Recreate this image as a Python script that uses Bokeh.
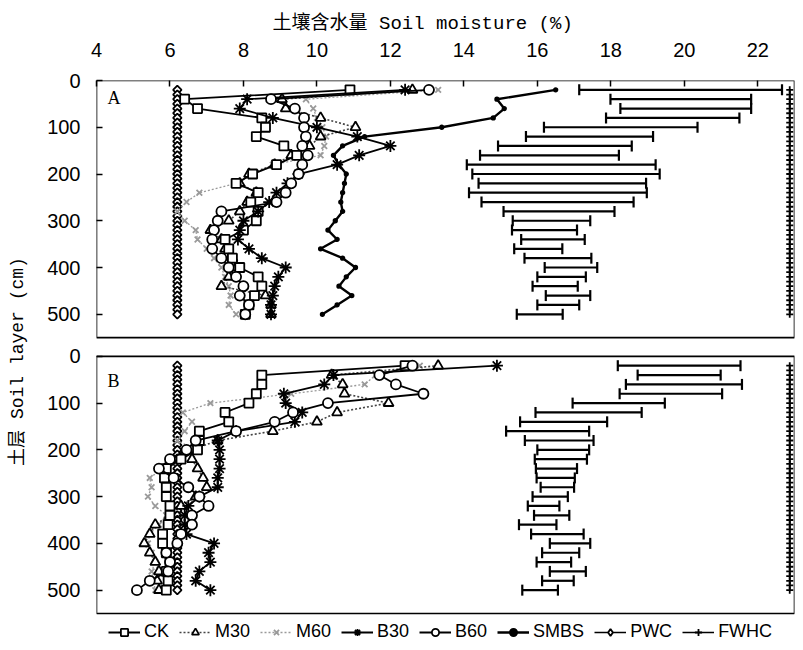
import math
from bokeh.plotting import figure
from bokeh.models import (Range1d, FixedTicker, Whisker, TeeHead, Legend,
                          LegendItem, Label, ColumnDataSource)
from bokeh.embed import file_html
from bokeh.resources import INLINE

# ---------------- data ----------------
depths = [20, 40, 60, 80, 100, 120, 140, 160, 180, 200, 220, 240, 260,
          280, 300, 320, 340, 360, 380, 400, 420, 440, 460, 480, 500]
layer_depths = [20, 30, 40, 50, 60, 70, 80, 90, 100, 110, 120, 130, 140,
                150, 160, 170, 180, 190, 200, 210, 220, 230, 240, 250, 260,
                270, 280, 290, 300, 310, 320, 330, 340, 350, 360, 370, 380,
                390, 400, 410, 420, 430, 440, 450, 460, 470, 480, 490, 500]
x_ticks = [4, 6, 8, 10, 12, 14, 16, 18, 20, 22]
y_ticks = [0, 100, 200, 300, 400, 500]
y_tick_labels = ["0", "100", "200", "300", "400", "500"]
series_names = ["CK", "M30", "M60", "B30", "B60", "SMBS", "PWC", "FWHC"]

# Panel A
ck_a = [10.9, 6.4, 6.75, 8.5, 8.6, 8.35, 9.1, 9.45, 8.9, 8.25, 7.8, 8.4, 8.2,
        8.4, 8.35, 8.0, 7.5, 7.6, 7.7, 7.9, 8.4, 8.5, 8.3, 8.15, 8.05]
m30_a = [12.6, 9.05, 9.15, 10.1, 11.05, 10.1, 9.8, 9.3, 8.85, 8.15, 7.9, 8.35,
         8.1, 7.9, 7.6, 7.1, 7.4, 7.5, 7.7, 7.8, 7.6, 7.4, 8.6, 8.75, 8.75]
m60_a = [13.3, 9.7, 9.9, 10.0, 10.15, 10.25, 10.2, 10.1, 8.8, 8.3, 7.8, 6.8,
         6.45, 6.2, 6.4, 6.7, 6.75, 7.0, 7.2, 7.4, 7.5, 7.6, 7.65, 7.6, 7.8]
b30_a = [12.4, 8.1, 7.9, 8.8, 10.0, 11.1, 12.0, 11.15, 10.55, 9.5, 9.2, 8.9,
         8.7, 8.4, 8.0, 7.9, 7.85, 8.15, 8.5, 9.15, 8.95, 8.85, 8.8, 8.75, 8.75]
b60_a = [13.05, 8.75, 9.4, 9.65, 9.65, 9.7, 9.6, 9.75, 9.6, 9.5, 9.3, 9.15,
         8.9, 7.4, 7.3, 7.2, 7.15, 7.15, 7.4, 7.6, 7.8, 8.0, 7.9, 8.15, 8.05]
smbs_a = [16.5, 14.9, 15.1, 14.8, 13.4, 11.3, 10.7, 10.45, 10.6, 10.8, 10.75,
          10.7, 10.65, 10.7, 10.5, 10.3, 10.55, 10.1, 10.7, 11.05, 10.8, 10.6,
          10.95, 10.55, 10.15]
range_lo_a = [17.14, 17.99, 18.26, 17.87, 16.18, 15.69, 14.93, 14.44, 14.08,
              14.23, 14.4, 14.14, 14.48, 15.08, 15.33, 15.31, 15.56, 15.37,
              15.65, 16.2, 16.0, 15.87, 16.23, 16.0, 15.44]
range_hi_a = [22.66, 21.82, 21.82, 21.5, 20.36, 19.15, 18.57, 18.22, 19.22,
              19.33, 18.96, 18.98, 18.62, 18.1, 17.44, 17.08, 17.29, 16.68,
              17.47, 17.63, 17.32, 17.1, 17.44, 17.14, 16.69]
pwc_a = [6.2, 6.2, 6.2, 6.2, 6.2, 6.2, 6.2, 6.2, 6.2, 6.2,
         6.2, 6.2, 6.2, 6.2, 6.2, 6.2, 6.2, 6.2, 6.2, 6.2,
         6.2, 6.2, 6.2, 6.2, 6.2, 6.2, 6.2, 6.2, 6.2, 6.2,
         6.2, 6.2, 6.2, 6.2, 6.2, 6.2, 6.2, 6.2, 6.2, 6.2,
         6.2, 6.2, 6.2, 6.2, 6.2, 6.2, 6.2, 6.2, 6.2]
fwhc_a = [22.87, 22.87, 22.87, 22.87, 22.87, 22.87, 22.87, 22.87, 22.87, 22.87,
          22.87, 22.87, 22.87, 22.87, 22.87, 22.87, 22.87, 22.87, 22.87, 22.87,
          22.87, 22.87, 22.87, 22.87, 22.87, 22.87, 22.87, 22.87, 22.87, 22.87,
          22.87, 22.87, 22.87, 22.87, 22.87, 22.87, 22.87, 22.87, 22.87, 22.87,
          22.87, 22.87, 22.87, 22.87, 22.87, 22.87, 22.87, 22.87, 22.87]

# Panel B
ck_b = [12.4, 8.5, 8.5, 8.35, 8.15, 7.5, 7.6, 6.8, 6.8, 6.75, 6.3, 5.9, 5.85,
        5.9, 5.9, 6.0, 6.0, 5.95, 5.8, 5.8, 5.9, 6.0, 5.9, 5.95, 5.9]
m30_b = [13.3, 10.4, 10.7, 10.75, 11.95, 10.55, 10.0, 8.8, 7.3, 6.6, 6.6, 6.75,
         6.9, 7.0, 6.7, 6.3, 6.0, 5.6, 5.45, 5.3, 5.45, 5.6, 5.7, 5.65, 5.7]
m60_b = [12.8, 11.6, 11.3, 9.3, 7.1, 6.35, 6.6, 6.4, 6.2, 6.7, 6.6, 5.8, 5.45,
         5.5, 5.4, 5.6, 5.9, 5.7, 5.45, 5.4, 5.5, 5.6, 5.5, 5.55, 5.6]
b30_b = [14.9, 10.45, 10.2, 9.1, 9.15, 9.6, 9.4, 7.8, 7.3, 7.35, 7.35, 7.35,
         7.3, 7.3, 6.8, 6.5, 6.4, 6.4, 6.45, 7.2, 7.05, 7.1, 6.8, 6.7, 7.1]
b60_b = [12.6, 11.7, 12.15, 12.9, 10.3, 9.35, 8.85, 7.8, 6.7, 6.45, 6.0, 5.7,
         6.1, 6.5, 6.8, 7.05, 6.6, 6.6, 6.3, 6.2, 5.9, 6.0, 5.95, 5.45, 5.1]
range_lo_b = [18.19, 18.73, 18.41, 18.24, 16.96, 15.95, 15.53, 15.15, 15.66,
              16.0, 15.93, 15.96, 15.98, 16.09, 15.87, 15.74, 15.91, 15.5,
              15.83, 16.34, 16.13, 15.98, 16.34, 16.13, 15.59]
range_hi_b = [21.53, 20.99, 21.57, 21.03, 19.47, 18.84, 17.9, 17.41, 17.53,
              17.41, 17.35, 17.08, 17.02, 17.0, 16.83, 16.6, 16.87, 16.52,
              17.26, 17.44, 17.14, 16.92, 17.32, 16.99, 16.56]
pwc_b = [6.2, 6.2, 6.2, 6.2, 6.2, 6.2, 6.2, 6.2, 6.2, 6.2,
         6.2, 6.2, 6.2, 6.2, 6.2, 6.2, 6.2, 6.2, 6.2, 6.2,
         6.2, 6.2, 6.2, 6.2, 6.2, 6.2, 6.2, 6.2, 6.2, 6.2,
         6.2, 6.2, 6.2, 6.2, 6.2, 6.2, 6.2, 6.2, 6.2, 6.2,
         6.2, 6.2, 6.2, 6.2, 6.2, 6.2, 6.2, 6.2, 6.2]
fwhc_b = [22.87, 22.87, 22.87, 22.87, 22.87, 22.87, 22.87, 22.87, 22.87, 22.87,
          22.87, 22.87, 22.87, 22.87, 22.87, 22.87, 22.87, 22.87, 22.87, 22.87,
          22.87, 22.87, 22.87, 22.87, 22.87, 22.87, 22.87, 22.87, 22.87, 22.87,
          22.87, 22.87, 22.87, 22.87, 22.87, 22.87, 22.87, 22.87, 22.87, 22.87,
          22.87, 22.87, 22.87, 22.87, 22.87, 22.87, 22.87, 22.87, 22.87]

# ---------------- layout constants ----------------
X_MIN, X_MAX = 4, 23
PANEL_DEPTH = 550          # visible depth of each panel (cm)
B_OFFSET = 590             # panel B drawn below panel A with a gap
Y_BOTTOM = 1202            # extra room under panel B for the legend

TICK_FONT = "'Liberation Sans', Arial, sans-serif"
TITLE_FONT = "'Liberation Mono', 'Noto Sans CJK SC', monospace"

p = figure(width=795, height=642,
           x_range=Range1d(X_MIN, X_MAX), y_range=Range1d(Y_BOTTOM, 0),
           x_axis_location="above", output_backend="svg",
           toolbar_location=None,
           min_border_left=96, min_border_right=1,
           min_border_top=80, min_border_bottom=0)
p.xgrid.visible = False
p.ygrid.visible = False
p.outline_line_color = None
p.background_fill_color = "white"

xa = p.xaxis[0]
xa.ticker = FixedTicker(ticks=x_ticks)
xa.axis_label = "土壤含水量 Soil moisture (%)\u00a0\u00a0\u00a0\u00a0"
xa.axis_label_text_font = TITLE_FONT
xa.axis_label_text_font_size = "19px"
xa.axis_label_text_font_style = "normal"
xa.axis_label_text_color = "black"
xa.axis_label_standoff = 5
xa.major_label_text_font = TICK_FONT
xa.major_label_text_font_size = "20px"
xa.major_label_text_color = "black"
xa.major_label_standoff = 24
xa.major_tick_in = 6
xa.major_tick_out = 0
xa.minor_tick_in = 0
xa.minor_tick_out = 0
xa.axis_line_color = None
xa.major_tick_line_width = 1.5

ya = p.yaxis[0]
ya_ticks = y_ticks + [t + B_OFFSET for t in y_ticks]
ya.ticker = FixedTicker(ticks=ya_ticks)
overrides = {}
for t, lab in zip(y_ticks, y_tick_labels):
    overrides[t] = lab
    overrides[t + B_OFFSET] = lab
ya.major_label_overrides = overrides
ya.axis_label = "土层 Soil layer (cm)"
ya.axis_label_text_font = TITLE_FONT
ya.axis_label_text_font_size = "18px"
ya.axis_label_text_font_style = "normal"
ya.axis_label_text_color = "black"
ya.axis_label_standoff = 16
ya.major_label_text_font = TICK_FONT
ya.major_label_text_font_size = "20px"
ya.major_label_text_color = "black"
ya.major_label_standoff = 16
ya.major_tick_in = 6
ya.major_tick_out = 0
ya.minor_tick_in = 0
ya.minor_tick_out = 0
ya.axis_line_color = None
ya.major_tick_line_width = 1.5

# panel frames
p.quad(left=[X_MIN, X_MIN], right=[X_MAX, X_MAX], top=[0, B_OFFSET],
       bottom=[PANEL_DEPTH, B_OFFSET + PANEL_DEPTH],
       fill_color=None, line_color="black", line_width=1.6)

styles = {
    "CK": dict(line_color="black", line_dash="solid", line_width=1.8,
               marker="square", size=9, fill_color="white", mline="black", angle=0),
    "M30": dict(line_color="#444444", line_dash="2 2", line_width=1.6,
                marker="triangle", size=10, fill_color="white", mline="black", angle=0),
    "M60": dict(line_color="#9a9a9a", line_dash="2 2", line_width=1.3,
                marker="x", size=8, fill_color="#9a9a9a", mline="#9a9a9a", angle=0),
    "B30": dict(line_color="black", line_dash="solid", line_width=1.8,
                marker="asterisk", size=12, fill_color="black", mline="black", angle=0),
    "B60": dict(line_color="black", line_dash="solid", line_width=1.8,
                marker="circle", size=10, fill_color="white", mline="black", angle=0),
    "SMBS": dict(line_color="black", line_dash="solid", line_width=2.4,
                 marker="circle", size=3.5, fill_color="black", mline="black", angle=0),
    "PWC": dict(line_color="black", line_dash="solid", line_width=1.5,
                marker="square", size=6, fill_color="white", mline="black",
                angle=math.pi / 4),
    "FWHC": dict(line_color="black", line_dash="solid", line_width=1.5,
                 marker="cross", size=7, fill_color="black", mline="black", angle=0),
}

legend_renderers = {}


def draw(name, xs, ds, offset):
    st = styles[name]
    ys = [d + offset for d in ds]
    src = ColumnDataSource(dict(x=xs, y=ys))
    ln = p.line("x", "y", source=src, line_color=st["line_color"],
                line_dash=st["line_dash"], line_width=st["line_width"])
    sc = p.scatter("x", "y", source=src, marker=st["marker"], size=st["size"],
                   fill_color=st["fill_color"], line_color=st["mline"],
                   line_width=1.8, angle=st["angle"])
    if name not in legend_renderers:
        legend_renderers[name] = [ln, sc]


def draw_range(lo, hi, ds, offset):
    src = ColumnDataSource(dict(y=[d + offset for d in ds], lo=lo, hi=hi))
    w = Whisker(source=src, base="y", lower="lo", upper="hi",
                dimension="width", line_width=2.2, line_color="black",
                upper_head=TeeHead(size=11, line_width=2.2, line_color="black"),
                lower_head=TeeHead(size=11, line_width=2.2, line_color="black"))
    p.add_layout(w)


panels = [
    (0, dict(CK=ck_a, M30=m30_a, M60=m60_a, B30=b30_a, B60=b60_a, SMBS=smbs_a),
     pwc_a, fwhc_a, range_lo_a, range_hi_a),
    (B_OFFSET, dict(CK=ck_b, M30=m30_b, M60=m60_b, B30=b30_b, B60=b60_b),
     pwc_b, fwhc_b, range_lo_b, range_hi_b),
]

for offset, ser, pwc, fwhc, lo, hi in panels:
    draw_range(lo, hi, depths, offset)
    draw("PWC", pwc, layer_depths, offset)
    draw("FWHC", fwhc, layer_depths, offset)
    for name in ["SMBS", "M60", "M30", "CK", "B30", "B60"]:
        if name in ser:
            draw(name, ser[name], depths, offset)

# legend-only diamond for PWC (the legend ignores marker rotation);
# it holds one undefined point, so nothing is drawn in the plot itself
pwc_key = p.scatter(x=[float("nan")], y=[float("nan")], marker="diamond",
                    size=11, fill_color="white", line_color="black",
                    line_width=1.8)
legend_renderers["PWC"] = [legend_renderers["PWC"][0], pwc_key]

# panel letters
for txt, yv in [("A", 37), ("B", B_OFFSET + 52)]:
    p.add_layout(Label(x=4.3, y=yv, text=txt, text_font="'Liberation Serif', serif",
                       text_font_size="18px", text_baseline="middle",
                       text_align="left", text_color="black"))

items = [LegendItem(label=n, renderers=legend_renderers[n]) for n in series_names]
legend = Legend(items=items, location=(12, 0), orientation="horizontal",
                border_line_color=None, background_fill_alpha=0,
                padding=0, margin=0, spacing=10, glyph_width=32,
                glyph_height=18, label_height=18, label_standoff=4,
                label_text_font=TICK_FONT, label_text_font_size="18px",
                label_text_color="black")
p.add_layout(legend)

open("out.html", "w").write(file_html(p, INLINE))
